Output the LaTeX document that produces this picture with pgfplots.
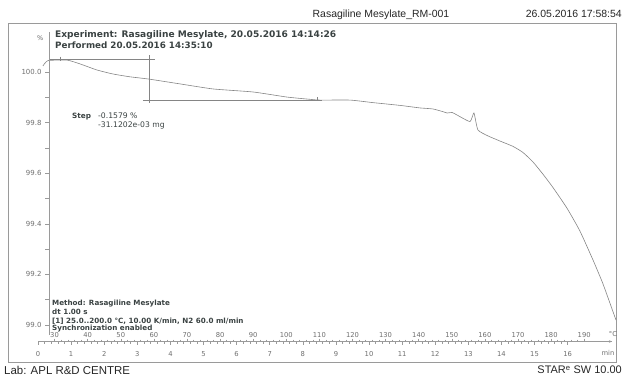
\documentclass[border=0pt]{standalone}
\usepackage{pgfplots}
\pgfplotsset{compat=1.18}
\usepackage{pgfplotstable}
\usepackage{fontspec}
\setmainfont{DejaVu Sans}
\newfontfamily\arial{Liberation Sans}
\usetikzlibrary{arrows.meta}
\definecolor{txt}{HTML}{3A4242}
\definecolor{tk}{HTML}{6E6E6E}
\definecolor{fr}{HTML}{9A9A9A}
\definecolor{cv}{HTML}{858585}

\pgfplotstableread{
t v
0.15 100.024
0.30 100.045
0.88 100.047
1.27 100.032
1.78 100.008
2.27 99.992
2.78 99.981
3.35 99.972
4.29 99.953
5.29 99.933
6.50 99.921
7.52 99.901
8.22 99.892
8.52 99.889
9.43 99.889
10.12 99.879
10.94 99.868
11.54 99.858
11.93 99.854
12.24 99.843
12.36 99.838
12.51 99.840
12.66 99.830
13.05 99.804
13.17 99.838
13.29 99.771
13.60 99.747
13.96 99.727
14.35 99.706
14.65 99.682
14.95 99.645
15.25 99.597
15.56 99.543
15.98 99.462
16.37 99.372
16.77 99.256
17.07 99.162
17.46 99.020
}\tgadata

\begin{document}
\begin{tikzpicture}[x=1bp,y=1bp]
\path[use as bounding box] (0,0) rectangle (623,377);

% frame + curve
\begin{axis}[at={(8bp,15bp)}, anchor=south west, scale only axis,
  width=608bp, height=339bp,
  xmin=-0.9063, xmax=17.462, ymin=98.8538, ymax=100.1937,
  xtick=\empty, ytick=\empty,
  axis line style={fr, line width=0.8bp}]
\addplot[cv, line width=0.6bp, smooth, tension=0.3] table {\tgadata};
\addplot[cv, line width=0.5bp] coordinates {(0.33,100.049) (3.53,100.049)};
\addplot[cv, line width=0.5bp] coordinates {(3.35,100.067) (3.35,99.877)};
\addplot[cv, line width=0.5bp] coordinates {(3.17,99.889) (8.58,99.889)};
\addplot[cv, only marks, mark=|, mark size=2bp, mark options={line width=0.5bp}] coordinates {(0.66,100.053) (8.45,99.893)};
\end{axis}

% y axis
\begin{axis}[at={(49bp,42bp)}, anchor=south west, scale only axis,
  width=567bp, height=303bp,
  xmin=0, xmax=1, ymin=98.9605, ymax=100.1581,
  axis y line=left, axis x line=none,
  y axis line style={-, fr, line width=0.6bp},
  ytick={99,99.2,99.4,99.6,99.8,100},
  minor ytick={99.1,99.3,99.5,99.7,99.9},
  tick align=outside, major tick length=4bp, minor tick length=4bp,
  tick style={fr, line width=0.5bp},
  yticklabel style={font=\fontsize{7}{8}\selectfont, text=tk},
  /pgf/number format/.cd, fixed, fixed zerofill, precision=1, assume math mode=true]
\end{axis}

% time ruler
\begin{axis}[at={(38bp,35.5bp)}, anchor=south west, scale only axis,
  width=574bp, height=10bp,
  xmin=0, xmax=17.34, ymin=0, ymax=1,
  axis x line=bottom, axis y line=none,
  x axis line style={-{Stealth[length=3bp,width=2.5bp]}, fr, line width=0.6bp},
  xtick={0,...,16}, minor x tick num=4,
  tick align=outside, major tick length=3bp, minor tick length=2bp,
  tick style={fr, line width=0.5bp},
  xticklabel style={font=\fontsize{6.8}{7}\selectfont, text=tk, yshift=-3.5bp},
  /pgf/number format/assume math mode=true]
\end{axis}

% temperature ruler
\begin{axis}[at={(38bp,35.5bp)}, anchor=north west, scale only axis,
  width=574bp, height=10bp,
  xmin=25, xmax=198.4, ymin=0, ymax=1,
  axis x line=top, axis y line=none,
  x axis line style={-, fr, line width=0.6bp},
  xtick={30,40,...,190}, minor x tick num=4,
  tick align=outside, major tick length=3bp, minor tick length=2bp,
  tick style={fr, line width=0.5bp},
  xticklabel style={font=\fontsize{6.8}{7}\selectfont, text=tk, yshift=-2.5bp},
  /pgf/number format/assume math mode=true]
\end{axis}

% texts
\node[anchor=base, inner sep=0, font=\arial\fontsize{10.5}{12}\selectfont, text=black!85] at (381,360) {Rasagiline Mesylate\_RM-001};
\node[anchor=base east, inner sep=0, font=\arial\fontsize{10.5}{12}\selectfont, text=black!85] at (622,360) {26.05.2016 17:58:54};
\node[anchor=west, inner sep=0, font=\bfseries\fontsize{9.1}{10}\selectfont, text=txt] at (55,342) {Experiment: Rasagiline Mesylate, 20.05.2016 14:14:26};
\node[anchor=west, inner sep=0, font=\bfseries\fontsize{8.8}{10}\selectfont, text=txt] at (55,332) {Performed 20.05.2016 14:35:10};
\node[anchor=west, inner sep=0, font=\fontsize{6.5}{7}\selectfont, text=tk] at (37,339) {\%};
\node[anchor=west, inner sep=0, font=\bfseries\fontsize{7.3}{8}\selectfont, text=txt] at (72,260) {Step};
\node[anchor=west, inner sep=0, font=\fontsize{7.7}{8}\selectfont, text=txt] at (98,261) {-0.1579 \%};
\node[anchor=west, inner sep=0, font=\fontsize{7.7}{8}\selectfont, text=txt] at (98,252) {-31.1202e-03 mg};
\node[anchor=west, inner sep=0, font=\bfseries\fontsize{7.2}{8}\selectfont, text=txt] at (52,73.5) {Method: Rasagiline Mesylate};
\node[anchor=west, inner sep=0, font=\bfseries\fontsize{7.2}{8}\selectfont, text=txt] at (52,65) {dt 1.00 s};
\node[anchor=west, inner sep=0, font=\bfseries\fontsize{7.2}{8}\selectfont, text=txt] at (52,56) {[1] 25.0..200.0 °C, 10.00 K/min, N2 60.0 ml/min};
\node[anchor=west, inner sep=0, font=\bfseries\fontsize{7.2}{8}\selectfont, text=txt] at (52,48.5) {Synchronization enabled};
\node[inner sep=0, font=\fontsize{6.8}{7}\selectfont, text=tk] at (608,24) {min};
\node[inner sep=0, font=\fontsize{6.8}{7}\selectfont, text=tk] at (613,43) {°C};
\node[anchor=west, inner sep=0, font=\arial\fontsize{11.5}{13}\selectfont, text=black!85] at (4,7) {Lab: APL R\&D CENTRE};
\node[anchor=east, inner sep=0, font=\arial\fontsize{11}{13}\selectfont, text=black!85] at (622,7) {STAR\textsuperscript{e} SW 10.00};
\end{tikzpicture}
\end{document}
